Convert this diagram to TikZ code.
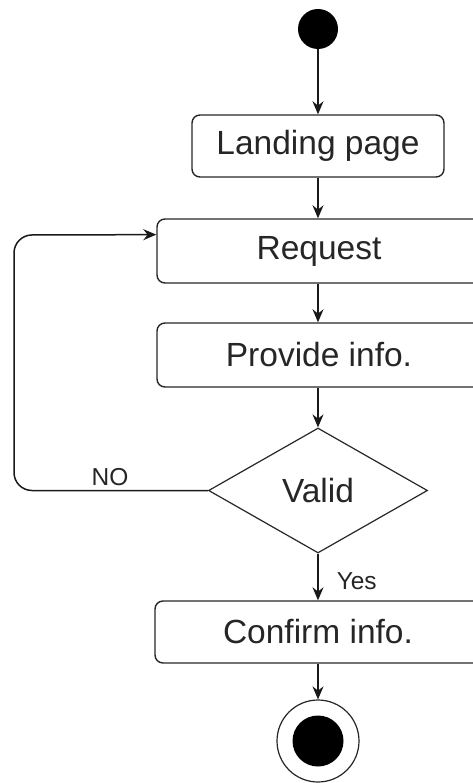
\documentclass[tikz,border=0pt]{standalone}
\usepackage{fontspec}
\setmainfont{Liberation Sans}
\usetikzlibrary{shapes.geometric,arrows.meta,calc}

\tikzset{
  flow/.style={line width=1.5pt, draw=black!90, -{Stealth[length=13pt,width=11pt]}},
  activity/.style={draw=black!85, line width=1.4pt, rounded corners=8pt,
    inner sep=0pt, font=\fontsize{33.5}{38}\selectfont, text=black!85},
  decision/.style={diamond, draw=black!85, line width=1.2pt, inner sep=0pt,
    minimum width=219pt, minimum height=125pt,
    font=\fontsize{33.5}{38}\selectfont, text=black!85},
  guard/.style={font=\fontsize{24.5}{28}\selectfont, text=black!85, inner sep=0pt},
}

\begin{document}
\begin{tikzpicture}[x=1pt,y=-1pt]
  \useasboundingbox (0,0) rectangle (473,783);
  \clip (0,0) rectangle (473,783);

  % initial and final states
  \node[circle, fill=black, minimum size=40pt, inner sep=0pt] (start) at (318,29) {};
  \node[circle, draw=black!85, line width=1.2pt, minimum size=82pt, inner sep=0pt] (stop) at (318,741) {};
  \node[circle, fill=black, minimum size=51pt, inner sep=0pt] (stopdot) at (318,741) {};

  % activities
  \node[activity, minimum width=252pt, minimum height=62pt] (land) at (318,146) {Landing page};
  \node[activity, minimum width=324pt, minimum height=64pt] (req) at (319,251) {Request};
  \node[activity, minimum width=324pt, minimum height=64pt] (prov) at (319,355) {Provide info.};
  \node[decision] (valid) at (318,490.5) {Valid};
  \node[activity, minimum width=326pt, minimum height=62pt] (conf) at (318,632) {Confirm info.};

  % main flow
  \draw[flow] (start) -- (land);
  \draw[flow] (land) -- (land |- req.north);
  \draw[flow] (req.south -| land) -- (land |- prov.north);
  \draw[flow] (prov.south -| land) -- (valid.north);
  \draw[flow] (valid.south) -- (valid.south |- conf.north)
    node[guard, anchor=west, pos=0.6, xshift=18pt] {Yes};
  \draw[flow] (conf.south -| valid) -- (stop.north);

  % rejection loop back to the request
  \coordinate (reqin) at ($(req.north west)!0.25!(req.south west)$);
  \draw[flow, rounded corners=18pt] (valid.west) -- (14,490.5) -- (14,235) -- (reqin);
  \node[guard] (no) at (110,477) {NO};
\end{tikzpicture}
\end{document}
